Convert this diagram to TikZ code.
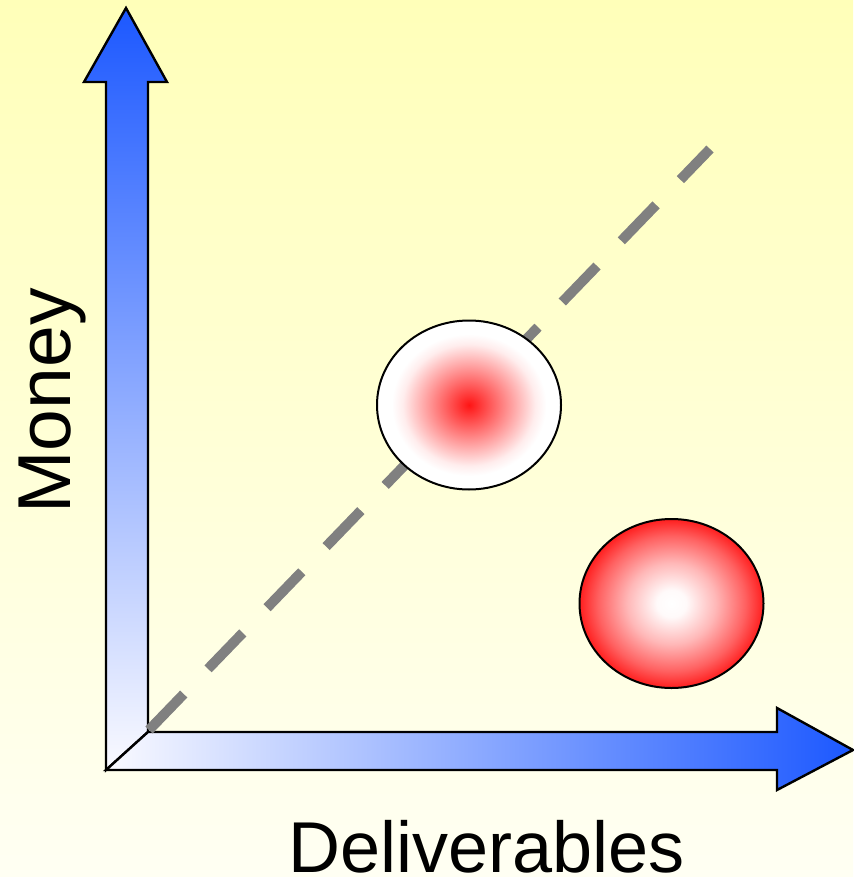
\documentclass[tikz,border=0pt]{standalone}
\usepackage{fontspec}
\setmainfont{Liberation Sans}
\usetikzlibrary{shapes.geometric}
\definecolor{bgtop}{RGB}{255,255,185}
\definecolor{bgbot}{RGB}{255,255,243}
\definecolor{axisblue}{RGB}{28,88,255}
\definecolor{axiswhite}{RGB}{250,250,255}
\definecolor{dashgray}{RGB}{128,128,128}
\pgfdeclareradialshading{redcore}{\pgfpoint{0bp}{0bp}}{rgb(0bp)=(1,0.08,0.08); rgb(3bp)=(1,0.22,0.22); rgb(11bp)=(1,0.6,0.6); rgb(18bp)=(1,0.93,0.93); rgb(21bp)=(1,1,1); rgb(50bp)=(1,1,1)}
\pgfdeclareradialshading{whitecore}{\pgfpoint{0bp}{0bp}}{rgb(0bp)=(1,1,1); rgb(4bp)=(1,0.98,0.98); rgb(12bp)=(1,0.72,0.72); rgb(20bp)=(1,0.38,0.38); rgb(25bp)=(1,0.12,0.12); rgb(50bp)=(1,0.12,0.12)}
\begin{document}
\begin{tikzpicture}[x=1pt,y=-1pt,
  axisarrow/.style={draw=black,line width=2.4pt,line join=miter},
  bubble/.style={ellipse,draw=black,line width=2pt,minimum width=184pt,minimum height=169pt,inner sep=0pt},
  axislabel/.style={text=black,inner sep=0pt},
  guide/.style={draw=dashgray,line width=10pt,dash pattern=on 50pt off 35pt}]
\useasboundingbox (0,0) rectangle (853,877);
\fill[top color=bgtop,bottom color=bgbot] (0,0) rectangle (853,877);
% vertical axis arrow
\path[axisarrow,top color=axisblue,bottom color=axiswhite]
  (106,770) -- (106,82) -- (84,82) -- (126,8) -- (167,82) -- (148,82) -- (148,732) -- cycle;
% horizontal axis arrow
\path[axisarrow,left color=axiswhite,right color=axisblue]
  (106,770) -- (148,732) -- (777,732) -- (777,708) -- (853,750) -- (777,790) -- (777,770) -- cycle;
% dashed diagonal
\coordinate (o) at (149,730);
\coordinate (e) at (710,149);
\draw[guide] (o) -- (e);
% bubbles
\node[bubble,shade,shading=redcore] (pink) at (469,405) {};
\node[bubble,shade,shading=whitecore] (red) at (671.5,603.5) {};
% labels
\node[axislabel,font=\fontsize{72}{80}\selectfont,anchor=base] (deliv) at (487,872) {Deliverables};
\node[axislabel,font=\fontsize{75}{82}\selectfont,rotate=90,anchor=base] (money) at (70,401) {Money};
\end{tikzpicture}
\end{document}
